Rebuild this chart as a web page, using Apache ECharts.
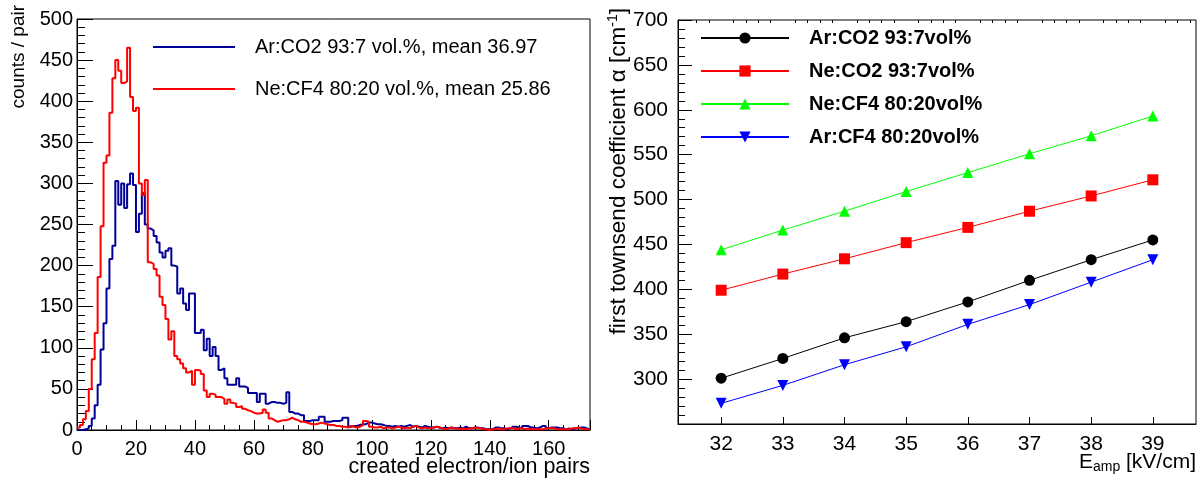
<!DOCTYPE html>
<html><head><meta charset="utf-8">
<script src="https://cdn.jsdelivr.net/npm/echarts@6/dist/echarts.min.js"></script>
<style>html,body{margin:0;padding:0;background:#fff}#c{width:1202px;height:479px}</style>
</head><body><div id="c"></div>
<script>
// ---------- Left panel: histogram of created electron/ion pairs (bin width 1, from 0) ----------
const binStart = 0;
const binWidth = 1;
const arCO2Counts = [
  0,0,1,2,5,14,30,55,98,130,
  172,208,224,303,274,300,270,299,312,298,
  241,263,288,250,245,243,236,228,216,210,
  218,221,200,199,166,172,154,146,166,166,
  118,118,122,97,111,90,101,90,73,75,
  63,55,55,55,63,53,53,51,45,45,
  45,34,44,44,32,34,34,33,33,32,
  33,46,22,20,20,18,18,11,11,12,
  12,12,16,16,10,10,11,11,11,12,
  15,15,4,5,5,6,7,7,9,9,
  8,7,7,6,5,5,4,5,4,5,
  4,5,6,4,5,4,3,5,4,3,
  3,4,3,2,3,2,3,2,2,3,
  2,4,2,2,3,3,2,2,1,1,
  1,3,3,2,2,1,2,4,4,3,
  2,5,5,3,3,2,3,5,5,2,
  3,3,3,2,2,1,2,1,2,2,
  3,3,2,1
];
const neCF4Counts = [
  3,6,13,23,50,86,118,186,248,325,
  334,386,428,450,437,422,424,465,405,388,
  392,300,286,304,204,202,196,188,162,152,
  135,110,120,90,86,81,75,70,72,55,
  73,72,68,48,40,44,43,40,40,38,
  32,37,33,32,28,29,26,24,23,21,
  20,20,21,25,21,14,12,10,11,12,
  12,13,15,13,12,10,10,9,8,7,
  7,8,9,8,7,6,6,5,5,4,
  4,3,5,4,3,4,6,11,10,4,
  3,3,4,2,3,3,2,3,4,3,
  2,3,2,4,5,3,2,3,2,2,
  3,4,3,2,1,2,3,2,2,1,
  2,1,2,2,3,2,2,1,1,0,
  1,1,2,1,1,2,2,2,1,2,
  2,1,2,1,1,1,1,1,2,2,
  2,2,1,1,1,1,1,2,2,3,
  2,1,1,1
];
const histLabels = ['Ar:CO2 93:7 vol.%, mean 36.97', 'Ne:CF4 80:20 vol.%, mean 25.86'];
const histYTicks = { min: 0, max: 500, step: 50 };
const histXTicks = { min: 0, step: 20 };

// ---------- Right panel: first Townsend coefficient vs E_amp ----------
const eampValues = [32, 33, 34, 35, 36, 37, 38, 39];
const arCO2Alpha = [301, 323, 346, 364, 386, 410, 433, 455];
const neCO2Alpha = [399, 417, 434, 452, 469, 487, 504, 522];
const neCF4Alpha = [444, 466, 487, 509, 530, 551, 571, 593];
const arCF4Alpha = [273, 293, 316, 336, 361, 383, 408, 433];
const alphaLabels = ['Ar:CO2 93:7vol%', 'Ne:CO2 93:7vol%', 'Ne:CF4 80:20vol%', 'Ar:CF4 80:20vol%'];
const eampRange = [31.3, 39.7];
const alphaRange = [250, 700];

// ---------- build ----------
const FONT = '"Liberation Sans", Arial, Helvetica, sans-serif';
const BLACK = '#000';

function histPoints(counts) {
  const pts = counts.map((v, i) => [binStart + i * binWidth, v]);
  pts.push([binStart + counts.length * binWidth, counts[counts.length - 1]]);
  return pts;
}
function pairs(xs, ys) { return xs.map((x, i) => [x, ys[i]]); }

const eampMinor = [];
for (let k = Math.round(eampRange[0] * 5) + 1; k < eampRange[1] * 5; k++) {
  if (k % 5 !== 0) eampMinor.push(k / 5);
}

const axisLineBlack = { show: true, onZero: false, lineStyle: { color: BLACK, width: 1 } };

const chart = echarts.init(document.getElementById('c'), null, { renderer: 'canvas' });
chart.setOption({
  animation: false,
  backgroundColor: '#fff',
  grid: [
    { left: 77, top: 19, width: 513, height: 411, show: true, borderColor: BLACK, borderWidth: 1, backgroundColor: 'transparent', outerBoundsMode: 'none', containLabel: false },
    { left: 678, top: 20, width: 518, height: 404, show: true, borderColor: BLACK, borderWidth: 1, backgroundColor: 'transparent', outerBoundsMode: 'none', containLabel: false }
  ],
  xAxis: [
    {
      gridIndex: 0, type: 'value', min: histXTicks.min, max: arCO2Counts.length, interval: histXTicks.step,
      axisLine: axisLineBlack,
      axisTick: { show: true, inside: true, length: 10, lineStyle: { color: BLACK } },
      minorTick: { show: true, splitNumber: 4, length: 5, lineStyle: { color: BLACK } },
      axisLabel: { fontSize: 20, color: BLACK, fontFamily: FONT, margin: 9, showMaxLabel: false },
      splitLine: { show: false }, minorSplitLine: { show: false }
    },
    {
      gridIndex: 1, type: 'value', min: eampRange[0], max: eampRange[1],
      axisLine: axisLineBlack,
      axisTick: { show: true, inside: true, length: 7, customValues: eampValues, lineStyle: { color: BLACK } },
      axisLabel: { fontSize: 21, color: BLACK, fontFamily: FONT, margin: 10, customValues: eampValues },
      splitLine: { show: false }
    },
    {
      gridIndex: 1, type: 'value', min: eampRange[0], max: eampRange[1],
      axisLine: { show: false },
      axisTick: { show: true, inside: true, length: 3, customValues: eampMinor, lineStyle: { color: BLACK } },
      axisLabel: { show: false },
      splitLine: { show: false }
    }
  ],
  yAxis: [
    {
      gridIndex: 0, type: 'value', min: histYTicks.min, max: histYTicks.max, interval: histYTicks.step,
      axisLine: axisLineBlack,
      axisTick: { show: true, inside: true, length: 16, lineStyle: { color: BLACK } },
      minorTick: { show: true, splitNumber: 5, length: 8, lineStyle: { color: BLACK } },
      axisLabel: { fontSize: 20, color: BLACK, fontFamily: FONT, margin: 4 },
      splitLine: { show: false }, minorSplitLine: { show: false }
    },
    {
      gridIndex: 1, type: 'value', min: alphaRange[0], max: alphaRange[1], interval: 50,
      axisLine: axisLineBlack,
      axisTick: { show: true, inside: true, length: 14, lineStyle: { color: BLACK } },
      minorTick: { show: true, splitNumber: 5, length: 7, lineStyle: { color: BLACK } },
      axisLabel: { fontSize: 21, color: BLACK, fontFamily: FONT, margin: 10, showMinLabel: false },
      splitLine: { show: false }, minorSplitLine: { show: false }
    }
  ],
  legend: [
    {
      data: histLabels, left: 153, top: 37, padding: 0, orient: 'vertical', icon: 'rect',
      itemWidth: 82, itemHeight: 2, itemGap: 22, selectedMode: false,
      textStyle: { fontSize: 20, color: BLACK, fontFamily: FONT, padding: [0, 0, 0, 15] }
    },
    {
      data: alphaLabels, left: 700, top: 28, padding: 0, orient: 'vertical',
      itemWidth: 88, itemHeight: 14, itemGap: 13, selectedMode: false,
      textStyle: { fontSize: 20, fontWeight: 'bold', color: BLACK, fontFamily: FONT, padding: [0, 0, 0, 15] }
    }
  ],
  series: [
    { name: histLabels[0], type: 'line', xAxisIndex: 0, yAxisIndex: 0, step: 'end', symbol: 'none',
      data: histPoints(arCO2Counts), lineStyle: { color: '#000099', width: 2 }, itemStyle: { color: '#000099' }, z: 3 },
    { name: histLabels[1], type: 'line', xAxisIndex: 0, yAxisIndex: 0, step: 'end', symbol: 'none',
      data: histPoints(neCF4Counts), lineStyle: { color: '#ff0000', width: 2 }, itemStyle: { color: '#ff0000' }, z: 4 },
    { name: alphaLabels[0], type: 'line', xAxisIndex: 1, yAxisIndex: 1, symbol: 'circle', symbolSize: 11,
      data: pairs(eampValues, arCO2Alpha), lineStyle: { color: '#000000', width: 1 }, itemStyle: { color: '#000000' } },
    { name: alphaLabels[1], type: 'line', xAxisIndex: 1, yAxisIndex: 1, symbol: 'rect', symbolSize: 11,
      data: pairs(eampValues, neCO2Alpha), lineStyle: { color: '#ff0000', width: 1 }, itemStyle: { color: '#ff0000' } },
    { name: alphaLabels[2], type: 'line', xAxisIndex: 1, yAxisIndex: 1, symbol: 'triangle', symbolSize: 11,
      data: pairs(eampValues, neCF4Alpha), lineStyle: { color: '#00ff00', width: 1 }, itemStyle: { color: '#00ff00' } },
    { name: alphaLabels[3], type: 'line', xAxisIndex: 1, yAxisIndex: 1, symbol: 'triangle', symbolRotate: 180, symbolSize: 11,
      data: pairs(eampValues, arCF4Alpha), lineStyle: { color: '#0000ff', width: 1 }, itemStyle: { color: '#0000ff' } }
  ],
  graphic: [
    { type: 'text', x: 19, y: 5, rotation: Math.PI / 2,
      style: { text: 'counts / pair', font: '19px ' + FONT, fill: BLACK, align: 'right', verticalAlign: 'middle' } },
    { type: 'text', x: 590, y: 467,
      style: { text: 'created electron/ion pairs', font: '21.5px ' + FONT, fill: BLACK, align: 'right', verticalAlign: 'middle' } },
    { type: 'text', x: 619, y: 8, rotation: Math.PI / 2,
      style: { text: '{a|first townsend coefficient α [cm}{s|-1}{a|]}', fill: BLACK, align: 'right', verticalAlign: 'middle',
        rich: { a: { fontSize: 22.5, fontFamily: FONT, fill: BLACK, lineHeight: 26 }, s: { fontSize: 14, fontFamily: FONT, fill: BLACK, verticalAlign: 'top', lineHeight: 14 } } } },
    { type: 'text', x: 1196, y: 462,
      style: { text: '{a|E}{b|amp}{a| [kV/cm]}', fill: BLACK, align: 'right', verticalAlign: 'middle',
        rich: { a: { fontSize: 21, fontFamily: FONT, fill: BLACK, lineHeight: 24 }, b: { fontSize: 14, fontFamily: FONT, fill: BLACK, verticalAlign: 'bottom', lineHeight: 14 } } } }
  ]
});
</script>
</body></html>
